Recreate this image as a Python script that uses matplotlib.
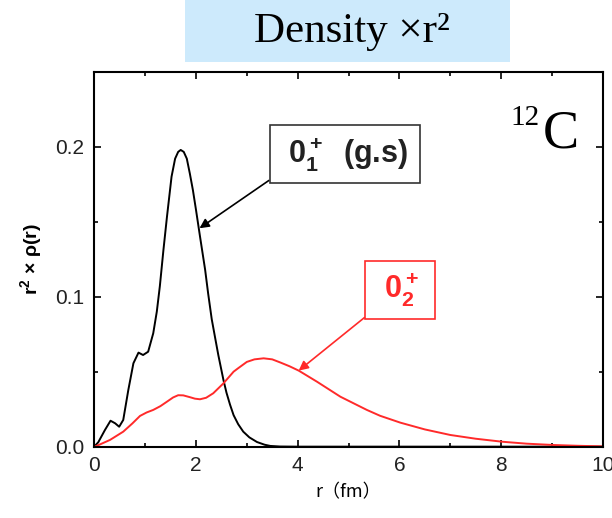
import matplotlib.pyplot as plt
from matplotlib.patches import Rectangle
from matplotlib.ticker import MultipleLocator

plt.rcParams['font.family'] = ['Liberation Sans', 'DejaVu Sans']
plt.rcParams['mathtext.fontset'] = 'custom'
plt.rcParams['mathtext.rm'] = 'Liberation Sans'
plt.rcParams['mathtext.it'] = 'Liberation Sans:italic'
plt.rcParams['mathtext.bf'] = 'Liberation Sans:bold'

# 0_1+ ground state: r (fm), r^2 * rho(r)
r_gs = [0.0, 0.08, 0.21, 0.32, 0.41, 0.49, 0.57, 0.67, 0.77, 0.87, 0.96, 1.06,
        1.16, 1.23, 1.29, 1.36, 1.43, 1.52, 1.59, 1.65, 1.70, 1.76, 1.82, 1.88,
        1.94, 2.0, 2.08, 2.18, 2.24, 2.31, 2.38, 2.44, 2.54, 2.6, 2.67, 2.74,
        2.83, 2.93, 3.05, 3.2, 3.35, 3.46, 3.65, 4.0, 10.0]
rho_gs = [0.0, 0.003, 0.0111, 0.0173, 0.0156, 0.0133, 0.0178, 0.0378, 0.0556,
          0.0627, 0.0611, 0.0633, 0.0756, 0.090, 0.107, 0.131, 0.1533, 0.180,
          0.192, 0.1965, 0.1978, 0.1965, 0.192, 0.182, 0.171, 0.158, 0.140,
          0.118, 0.102, 0.085, 0.072, 0.061, 0.0445, 0.036, 0.028, 0.021,
          0.015, 0.010, 0.0062, 0.0031, 0.0013, 0.0005, 0.0001, 0.0, 0.0]

# 0_2+ (Hoyle state)
r_ex = [0.0, 0.08, 0.31, 0.57, 0.75, 0.90, 1.03, 1.16, 1.3, 1.43, 1.55, 1.65,
        1.75, 1.88, 1.98, 2.08, 2.2, 2.34, 2.54, 2.74, 2.83, 3.0, 3.15, 3.33,
        3.5, 3.66, 3.84, 4.02, 4.38, 4.84, 5.36, 5.62, 6.02, 6.5, 7.0, 7.5,
        8.02, 8.5, 9.04, 9.5, 10.0]
rho_ex = [0.0, 0.001, 0.0045, 0.010, 0.0155, 0.0205, 0.0228, 0.0245, 0.027,
          0.030, 0.0328, 0.0343, 0.0342, 0.0330, 0.0320, 0.0316, 0.0326, 0.0356,
          0.0422, 0.050, 0.0523, 0.0565, 0.0582, 0.0589, 0.0582, 0.0561, 0.0536,
          0.0507, 0.0433, 0.0333, 0.0245, 0.0206, 0.016, 0.0115, 0.0078, 0.0053,
          0.0033, 0.0020, 0.0011, 0.0006, 0.0002]

red = '#ff2a2a'

fig = plt.figure(figsize=(6.12, 5.18), dpi=100)
ax = fig.add_axes([0.154, 0.1377, 0.831, 0.724])

ax.plot(r_gs, rho_gs, color='black', lw=1.4)
ax.plot(r_ex, rho_ex, color=red, lw=1.4)

ax.set_xlim(0, 10)
ax.set_ylim(0, 0.25)
ax.set_xticks([0, 2, 4, 6, 8, 10])
ax.set_yticks([0.0, 0.1, 0.2])
ax.set_yticklabels(['0.0', '0.1', '0.2'])
ax.xaxis.set_minor_locator(MultipleLocator(1))
ax.yaxis.set_minor_locator(MultipleLocator(0.05))
ax.tick_params(which='both', direction='in', top=True, right=True,
               labelsize=15, width=1.2, pad=7, labelcolor='#222222')
ax.tick_params(which='major', length=5)
ax.tick_params(which='minor', length=3)
for s in ax.spines.values():
    s.set_linewidth(1.5)

ax.set_xlabel('r（fm）', fontsize=13, family=['Noto Sans CJK JP', 'DejaVu Sans'],
              labelpad=6)
ax.set_ylabel(r'$\mathbf{r^2}$ × ρ(r)', fontsize=14, fontweight='bold', labelpad=8)

# state labels with arrows
ax.annotate(r' $\mathbf{0_1^+}$  (g.s) ', xy=(2.07, 0.1456), xytext=(4.93, 0.195),
            ha='center', va='center', fontsize=22, fontweight='bold', color='#222222',
            bbox=dict(boxstyle='square,pad=0.35', fc='white', ec='#333333', lw=1.2),
            arrowprops=dict(arrowstyle='-|>', color='black', lw=1.2, relpos=(0, 0),
                            shrinkA=0, shrinkB=0, mutation_scale=14))
ax.annotate(r' $\mathbf{0_2^+}$ ', xy=(4.02, 0.0507), xytext=(6.01, 0.1045),
            ha='center', va='center', fontsize=22, fontweight='bold', color=red,
            bbox=dict(boxstyle='square,pad=0.35', fc='white', ec=red, lw=1.2),
            arrowprops=dict(arrowstyle='-|>', color=red, lw=1.2, relpos=(0, 0),
                            shrinkA=0, shrinkB=0, mutation_scale=14))

# nucleus label
ax.text(8.18, 0.2145, '12', family='Liberation Serif', fontsize=21,
        ha='left', va='baseline')
ax.text(8.82, 0.1994, 'C', family='Liberation Serif', fontsize=39,
        ha='left', va='baseline')

# title banner
fig.patches.append(Rectangle((185 / 612, 456 / 518), 325 / 612, 62 / 518,
                             transform=fig.transFigure, facecolor='#cdeafc',
                             edgecolor='none', zorder=0))
fig.text(352 / 612, 1 - 42 / 518, 'Density ×r²', family='Liberation Serif',
         fontsize=31, ha='center', va='baseline')

fig.savefig('out.png', dpi=100)
